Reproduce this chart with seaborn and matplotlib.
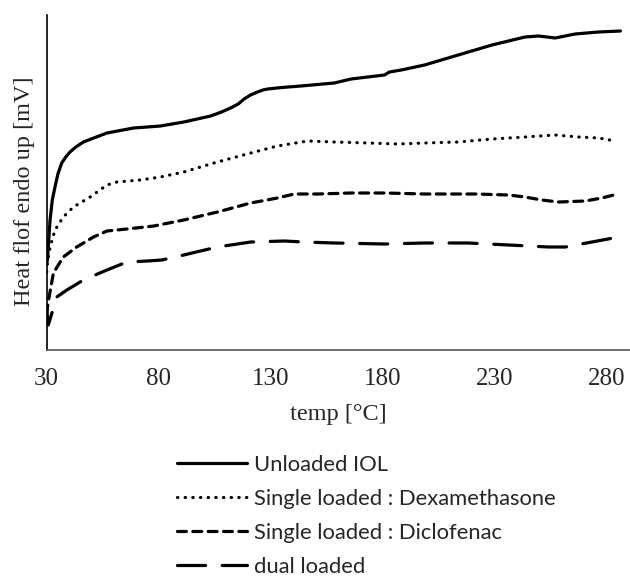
import numpy as np
import pandas as pd
import seaborn as sns
import matplotlib.pyplot as plt

# Series (temperature in degC, heat flow in arbitrary mV)
temp_unloaded = [30.0, 30.3, 31.5, 32.5, 33.7, 35.0, 36.7, 38.5, 40.4, 43.0, 46.4, 51.0,
                 56.9, 68.8, 80.8, 91.2, 103.2, 108.0, 112.1, 115.5, 118.1, 121.0,
                 124.1, 126.5, 128.6, 135.0, 143.5, 158.4, 165.9, 180.8, 183.0, 188.3,
                 198.7, 213.7, 228.8, 243.5, 249.5, 257.0, 265.9, 276.4, 286.1]
hf_unloaded = [8.4, 8.8, 12.8, 14.8, 16.1, 17.4, 18.5, 19.1, 19.6, 20.1, 20.6, 21.0,
               21.5, 22.0, 22.2, 22.6, 23.2, 23.6, 24.0, 24.4, 24.9, 25.3,
               25.6, 25.8, 25.9, 26.05, 26.2, 26.5, 26.9, 27.3, 27.6, 27.8,
               28.3, 29.3, 30.3, 31.1, 31.2, 31.0, 31.4, 31.6, 31.7]

temp_dexa = [30.0, 30.3, 31.5, 33.7, 37.4, 41.9, 49.4, 56.9, 61.4, 71.8, 80.8, 91.2,
             106.2, 121.1, 133.0, 146.5, 158.4, 173.4, 186.8, 198.7, 213.7, 228.8,
             243.5, 257.0, 267.5, 276.4, 283.9]
hf_dexa = [7.6, 8.5, 10.1, 11.8, 13.1, 14.1, 15.1, 16.3, 16.6, 16.8, 17.1, 17.6,
           18.6, 19.5, 20.2, 20.7, 20.6, 20.5, 20.4, 20.5, 20.6, 20.9,
           21.1, 21.3, 21.1, 21.0, 20.7]

temp_diclo = [30.0, 30.6, 33.0, 37.4, 43.4, 50.9, 56.9, 65.8, 77.8, 91.2, 106.2, 121.1,
              133.0, 140.5, 151.0, 165.9, 180.8, 198.7, 221.1, 236.1, 243.5, 251.0,
              258.5, 270.4, 277.9, 283.1]
hf_diclo = [3.4, 4.5, 7.5, 9.1, 10.1, 11.1, 11.7, 11.9, 12.2, 12.8, 13.6, 14.5,
            15.0, 15.4, 15.4, 15.5, 15.5, 15.4, 15.4, 15.3, 15.1, 14.8,
            14.6, 14.7, 15.0, 15.3]

temp_dual = [30.0, 30.7, 34.5, 39.0, 46.4, 56.9, 65.8, 74.8, 81.5, 91.2, 106.2, 121.1,
             136.0, 144.9, 158.4, 180.8, 198.7, 218.2, 236.1, 254.0, 261.5, 273.4, 285.4]
hf_dual = [3.8, 2.3, 5.1, 5.8, 6.8, 7.8, 8.6, 8.7, 8.8, 9.3, 10.1, 10.6,
           10.7, 10.6, 10.5, 10.4, 10.5, 10.5, 10.3, 10.1, 10.1, 10.6, 11.1]

labels = ["Unloaded IOL", "Single loaded : Dexamethasone",
          "Single loaded : Diclofenac", "dual loaded"]
x_ticks = [30, 80, 130, 180, 230, 280]

series = [
    (temp_unloaded, hf_unloaded, "-"),
    (temp_dexa, hf_dexa, (0, (0.1, 2.3))),
    (temp_diclo, hf_diclo, (0, (2.8, 2.0))),
    (temp_dual, hf_dual, (0, (8.8, 5.2))),
]

sns.set_style("white")

fig = plt.figure(figsize=(6.3, 5.8), dpi=100)
ax = fig.add_axes([46.7 / 630, 1 - 350 / 580, 1 - 46.7 / 630, 335 / 580])

for (t, hf, ls), lab in zip(series, labels):
    df = pd.DataFrame({"temp": t, "hf": hf})
    sns.lineplot(data=df, x="temp", y="hf", ax=ax, color="black", lw=2.3,
                 linestyle=ls, dash_capstyle="round", solid_capstyle="round",
                 label=lab, legend=False)

ax.set_xlim(30, 290.4)
ax.set_ylim(-0.2, 33.3)
ax.set_xticks(x_ticks)
ax.set_yticks([])
ax.tick_params(axis="x", length=0, pad=13)
for lbl in ax.get_xticklabels():
    lbl.set_fontfamily("Liberation Serif")
    lbl.set_fontsize(18)

ax.set_xlabel("temp [°C]", fontfamily="Liberation Serif", fontsize=17.5, labelpad=10)
ax.set_ylabel("Heat flof endo up [mV]", fontfamily="Liberation Serif", fontsize=17.5)
ax.yaxis.set_label_coords(-0.02, 0.475)

for side in ["top", "right"]:
    ax.spines[side].set_visible(False)
ax.spines["left"].set_color("black")
ax.spines["left"].set_linewidth(1.2)
ax.spines["bottom"].set_color("#555555")
ax.spines["bottom"].set_linewidth(1.2)

handles, labs = ax.get_legend_handles_labels()
leg = fig.legend(handles, labs, loc="upper left",
                 bbox_to_anchor=(176.7 / 630, 1 - 455 / 580),
                 frameon=False, borderpad=0, borderaxespad=0,
                 handlelength=3.2, handletextpad=0.3, labelspacing=0.64,
                 prop={"family": "Lato", "size": 15.8})

fig.savefig("out.png", dpi=100)
